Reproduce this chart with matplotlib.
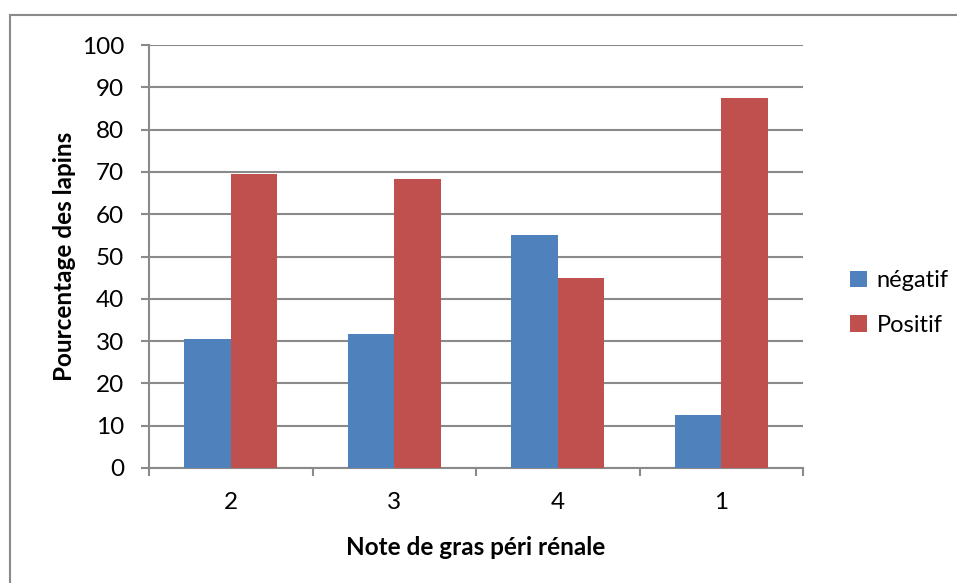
import numpy as np
import matplotlib.pyplot as plt
from matplotlib.patches import Rectangle

categories = ['2', '3', '4', '1']
negatif = [30.4, 31.6, 55.0, 12.5]
positif = [69.6, 68.4, 45.0, 87.5]

plt.rcParams['font.family'] = ['Lato', 'DejaVu Sans']

fig = plt.figure(figsize=(9.57, 5.83), dpi=100)
ax = fig.add_axes([149 / 957, 1 - 468 / 583, 654 / 957, 423 / 583])

x = np.arange(len(categories))
w = 1 / 3.5
ax.bar(x - w / 2, negatif, w, color='#4F81BD', label='négatif', zorder=3)
ax.bar(x + w / 2, positif, w, color='#C0504D', label='Positif', zorder=3)

ax.set_xlim(-0.5, len(categories) - 0.5)
ax.set_ylim(0, 100)
ax.set_yticks(range(0, 101, 10))
ax.set_xticks(np.arange(-0.5, len(categories), 1), minor=False)
ax.set_xticklabels([])
ax.set_xticks(x, minor=True)
ax.set_xticklabels(categories, minor=True)

grey = '#8a8a8a'
ax.grid(axis='y', color=grey, linewidth=1.5, zorder=0)
for s in ['top', 'right']:
    ax.spines[s].set_visible(False)
for s in ['left', 'bottom']:
    ax.spines[s].set_color(grey)
    ax.spines[s].set_linewidth(1.5)
ax.tick_params(axis='y', which='major', direction='out', length=6, width=1.5,
               color=grey, labelsize=17.5, pad=12)
ax.tick_params(axis='x', which='major', direction='out', length=6, width=1.5,
               color=grey)
ax.tick_params(axis='x', which='minor', length=0, labelsize=17.5, pad=17)

ax.set_xlabel('Note de gras péri rénale', fontsize=17.5, fontweight='bold', labelpad=17)
ax.set_ylabel('Pourcentage des lapins', fontsize=17.5, fontweight='bold', labelpad=4)

ax.legend(loc='center left', bbox_to_anchor=(1.04, 0.39), frameon=False,
          fontsize=17, handlelength=0.7, handleheight=0.7, handletextpad=0.4,
          labelspacing=1.0)

# outer chart border
fig.add_artist(Rectangle((9.5 / 957, -0.1), 1.2, 1.1 - 15.5 / 583,
                         transform=fig.transFigure, fill=False,
                         edgecolor=grey, linewidth=1.5, clip_on=False))

fig.savefig('out.png', dpi=100)
